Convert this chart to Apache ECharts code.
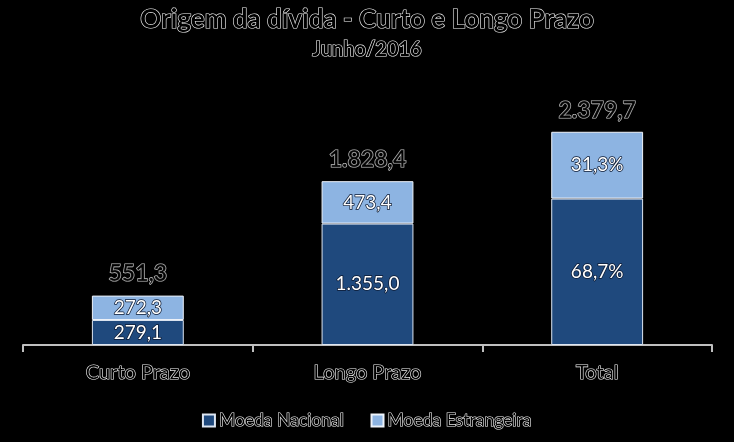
<!DOCTYPE html>
<html><head><meta charset="utf-8">
<script src="https://cdn.jsdelivr.net/npm/echarts@6/dist/echarts.min.js"></script>
<style>html,body{margin:0;padding:0;background:#000}#c{width:734px;height:442px}</style>
</head><body><div id="c"></div>
<script>
const categories = ['Curto Prazo', 'Longo Prazo', 'Total'];
const moedaNacional = [279.1, 1355.0, 1634.1];
const moedaEstrangeira = [272.3, 473.4, 745.6];
const totals = [551.3, 1828.4, 2379.7];
const labelsNacional = ['279,1', '1.355,0', '68,7%'];
const labelsEstrangeira = ['272,3', '473,4', '31,3%'];
const labelsTotal = ['551,3', '1.828,4', '2.379,7'];

const FONT = 'Lato';
const outline = {color: '#000', textBorderColor: '#f2f2f2', textBorderWidth: 1.2, fontFamily: FONT};
const inner = {color: '#fff', textBorderColor: '#0b1830', textBorderWidth: 1.5, fontFamily: FONT, fontSize: 19};

const chart = echarts.init(document.getElementById('c'));
chart.setOption({
  backgroundColor: '#000',
  animation: false,
  title: {
    text: 'Origem da dívida - Curto e Longo Prazo',
    subtext: 'Junho/2016',
    left: 'center', top: 2, itemGap: 5,
    textStyle: Object.assign({}, outline, {fontSize: 26, fontWeight: 'bold'}),
    subtextStyle: Object.assign({}, outline, {fontSize: 20, fontWeight: 'bold'})
  },
  legend: {
    bottom: 7, left: 'center', itemWidth: 12, itemHeight: 12, itemGap: 26,
    icon: 'rect',
    textStyle: Object.assign({}, outline, {fontSize: 17.5, padding: [0, 0, 0, -1]}),
    data: ['Moeda Nacional', 'Moeda Estrangeira']
  },
  grid: {left: 23, right: 22, top: 121, bottom: 97},
  xAxis: {
    type: 'category', data: categories,
    axisLine: {show: true, lineStyle: {color: '#bfbfbf', width: 2}},
    axisTick: {show: true, length: 7, interval: 0, alignWithLabel: false, lineStyle: {color: '#bfbfbf', width: 2}},
    axisLabel: Object.assign({}, outline, {fontSize: 20, margin: 18})
  },
  yAxis: {type: 'value', min: 0, max: 2500, show: false, splitLine: {show: false}},
  series: [
    {
      name: 'Moeda Nacional', type: 'bar', stack: 's', barWidth: '40%',
      data: moedaNacional,
      itemStyle: {color: '#1f497d', borderColor: '#dde6f2', borderWidth: 1},
      label: Object.assign({show: true, position: 'inside', formatter: p => labelsNacional[p.dataIndex]}, inner)
    },
    {
      name: 'Moeda Estrangeira', type: 'bar', stack: 's',
      data: moedaEstrangeira,
      itemStyle: {color: '#8db4e2', borderColor: '#eef3fa', borderWidth: 1},
      label: Object.assign({show: true, position: 'inside', formatter: p => labelsEstrangeira[p.dataIndex]}, inner)
    },
    {
      name: 'Total', type: 'scatter', data: totals, symbolSize: 0.1,
      itemStyle: {color: 'transparent'},
      label: Object.assign({show: true, position: 'top', distance: 10, formatter: p => labelsTotal[p.dataIndex]}, outline, {fontSize: 23, fontWeight: 'bold'})
    }
  ]
});
</script></body></html>
